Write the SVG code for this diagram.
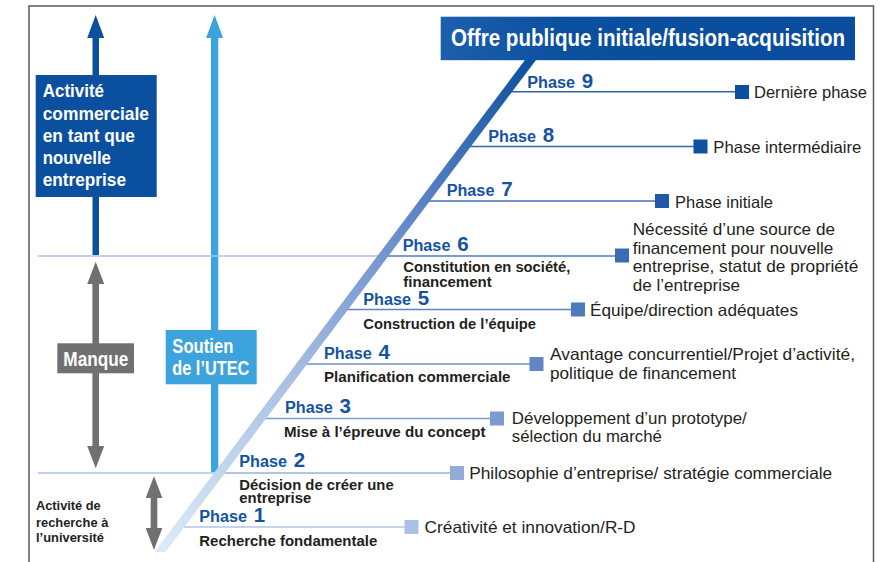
<svg xmlns="http://www.w3.org/2000/svg" width="893" height="562" viewBox="0 0 893 562">
<defs>
<linearGradient id="diag" gradientUnits="userSpaceOnUse" x1="160" y1="552" x2="531" y2="60">
<stop offset="0" stop-color="#dcebf8"/>
<stop offset="0.35" stop-color="#a9c0e4"/>
<stop offset="0.65" stop-color="#6a8dcb"/>
<stop offset="1" stop-color="#0b4f9f"/>
</linearGradient>
<linearGradient id="titleg" x1="0" y1="0" x2="1" y2="0">
<stop offset="0" stop-color="#1c5fad"/>
<stop offset="0.3" stop-color="#0b4f9f"/>
<stop offset="1" stop-color="#0a4d9e"/>
</linearGradient>
<style>
.b{font-family:"Liberation Sans",Arial,sans-serif;font-weight:bold}
.r{font-family:"Liberation Sans",Arial,sans-serif;font-size:16.5px;fill:#231f20}
.w{fill:#ffffff}
.ph{fill:#1452a3;font-size:16.8px}
.dg{fill:#1452a3;font-size:20.5px}
.sub{fill:#231f20;font-size:15.3px}
.sm{font-size:12.5px}
.sep{stroke:#aac4e6;stroke-width:1.5;fill:none}
</style>
</defs>
<rect width="893" height="562" fill="#ffffff"/>
<path d="M29,562 V6 H873.5 V562" fill="none" stroke="#5a5a5a" stroke-width="1.5"/>

<g id="connectors">
<rect x="92.5" y="37" width="6.5" height="218" fill="#0b4f9f"/>
<polygon points="95.7,15 104.2,38 87.2,38" fill="#0b4f9f"/>
<rect x="211" y="37" width="7.3" height="435" fill="#3ca3dc"/>
<polygon points="214.6,15 223.1,38 206.1,38" fill="#3ca3dc"/>
<rect x="92.4" y="283" width="6.6" height="164" fill="#707070"/>
<polygon points="95.7,261.7 104.2,284 87.2,284" fill="#707070"/>
<polygon points="95.7,468.3 104.2,446 87.2,446" fill="#707070"/>
<rect x="150.7" y="497" width="6.6" height="32" fill="#707070"/>
<polygon points="154,476 162.3,498 145.7,498" fill="#707070"/>
<polygon points="154,550 162.3,528 145.7,528" fill="#707070"/>
<line class="sep" x1="38" y1="256" x2="383" y2="256"/>
<line class="sep" x1="38" y1="473" x2="219.5" y2="473"/>
<line x1="506.8" y1="91.8" x2="736" y2="91.8" stroke="#2e62ad" stroke-width="1.5"/>
<line x1="465.4" y1="146.5" x2="694" y2="146.5" stroke="#3566b0" stroke-width="1.5"/>
<line x1="424.3" y1="201" x2="656" y2="201" stroke="#4470b6" stroke-width="1.5"/>
<line x1="382.9" y1="256" x2="616" y2="256" stroke="#4f7bbd" stroke-width="1.5"/>
<line x1="342.6" y1="309.5" x2="572" y2="309.5" stroke="#5b84c3" stroke-width="1.5"/>
<line x1="301.6" y1="364" x2="530" y2="364" stroke="#6e90c9" stroke-width="1.5"/>
<line x1="260.7" y1="418.5" x2="491" y2="418.5" stroke="#7d9ccf" stroke-width="1.5"/>
<line x1="219.5" y1="473" x2="451" y2="473" stroke="#98b0da" stroke-width="1.5"/>
<line x1="178.8" y1="527" x2="405" y2="527" stroke="#b0c6e6" stroke-width="1.5"/>
<polygon points="154.5,552 165.5,552 536,60 525,60" fill="url(#diag)"/>
</g>

<g id="title">
<rect x="440.7" y="16.7" width="414.3" height="43.5" fill="url(#titleg)"/>
<text class="b w" x="451" y="46" font-size="23" textLength="394" lengthAdjust="spacingAndGlyphs">Offre publique initiale/fusion-acquisition</text>
</g>

<g id="activite">
<rect x="35.7" y="75" width="121" height="122" fill="#0b4f9f"/>
<text class="b w" font-size="19" x="42.7" y="97.3" textLength="61.3" lengthAdjust="spacingAndGlyphs">Activité</text>
<text class="b w" font-size="19" x="42.7" y="119.5" textLength="106.3" lengthAdjust="spacingAndGlyphs">commerciale</text>
<text class="b w" font-size="19" x="42.7" y="141.8" textLength="92.3" lengthAdjust="spacingAndGlyphs">en tant que</text>
<text class="b w" font-size="19" x="42.7" y="164" textLength="68.3" lengthAdjust="spacingAndGlyphs">nouvelle</text>
<text class="b w" font-size="19" x="42.7" y="186.3" textLength="83.3" lengthAdjust="spacingAndGlyphs">entreprise</text>
</g>

<g id="manque">
<rect x="57.3" y="343.3" width="76.7" height="30" fill="#707070"/>
<text class="b w" font-size="20.5" x="63.3" y="365.5" textLength="65" lengthAdjust="spacingAndGlyphs">Manque</text>
</g>

<g id="soutien">
<rect x="165.7" y="330" width="91" height="54.3" fill="#3ca3dc"/>
<text class="b w" font-size="20.5" x="172.3" y="352.7" textLength="61" lengthAdjust="spacingAndGlyphs">Soutien</text>
<text class="b w" font-size="20.5" x="172.3" y="375" textLength="77" lengthAdjust="spacingAndGlyphs">de l’UTEC</text>
</g>

<g id="recherche-universite">
<text class="b sub sm" x="36" y="510" textLength="64.7" lengthAdjust="spacingAndGlyphs">Activité de</text>
<text class="b sub sm" x="36" y="526.7" textLength="72.3" lengthAdjust="spacingAndGlyphs">recherche à</text>
<text class="b sub sm" x="36" y="542" textLength="68" lengthAdjust="spacingAndGlyphs">l’université</text>
</g>

<g id="phase9">
<text class="b ph" x="527.3" y="88.3" textLength="47.7" lengthAdjust="spacingAndGlyphs">Phase</text>
<text class="b dg" x="581.8" y="88.3">9</text>
<rect x="735" y="85" width="14" height="14" fill="#0b4f9f"/>
<text class="r" x="754" y="98.3" textLength="113" lengthAdjust="spacingAndGlyphs">Dernière phase</text>
</g>

<g id="phase8">
<text class="b ph" x="488.3" y="141.7" textLength="47.7" lengthAdjust="spacingAndGlyphs">Phase</text>
<text class="b dg" x="542.8" y="141.7">8</text>
<rect x="693.5" y="139.5" width="14" height="14" fill="#0d51a1"/>
<text class="r" x="713.3" y="153.3" textLength="148" lengthAdjust="spacingAndGlyphs">Phase intermédiaire</text>
</g>

<g id="phase7">
<text class="b ph" x="446.7" y="196" textLength="47.7" lengthAdjust="spacingAndGlyphs">Phase</text>
<text class="b dg" x="501.2" y="196">7</text>
<rect x="655" y="194" width="14" height="14" fill="#1f59a7"/>
<text class="r" x="675" y="207.5" textLength="98" lengthAdjust="spacingAndGlyphs">Phase initiale</text>
</g>

<g id="phase6">
<text class="b ph" x="402.7" y="250.7" textLength="47.7" lengthAdjust="spacingAndGlyphs">Phase</text>
<text class="b dg" x="457.2" y="250.7">6</text>
<text class="b sub" x="403.3" y="271.7" textLength="167" lengthAdjust="spacingAndGlyphs">Constitution en société,</text>
<text class="b sub" x="403.3" y="286.5" textLength="88.4" lengthAdjust="spacingAndGlyphs">financement</text>
<rect x="615" y="248.5" width="14" height="14" fill="#3a6cb5"/>
<text class="r" x="632.7" y="235" textLength="202.3" lengthAdjust="spacingAndGlyphs">Nécessité d’une source de</text>
<text class="r" x="632.7" y="253.5" textLength="200.7" lengthAdjust="spacingAndGlyphs">financement pour nouvelle</text>
<text class="r" x="632.7" y="272" textLength="225.7" lengthAdjust="spacingAndGlyphs">entreprise, statut de propriété</text>
<text class="r" x="632.7" y="290.5" textLength="107.3" lengthAdjust="spacingAndGlyphs">de l’entreprise</text>
</g>

<g id="phase5">
<text class="b ph" x="363.3" y="305" textLength="47.7" lengthAdjust="spacingAndGlyphs">Phase</text>
<text class="b dg" x="417.8" y="305">5</text>
<text class="b sub" x="363.3" y="329.3" textLength="172.7" lengthAdjust="spacingAndGlyphs">Construction de l’équipe</text>
<rect x="571" y="302.5" width="14" height="14" fill="#4d79bd"/>
<text class="r" x="590" y="315.5" textLength="208" lengthAdjust="spacingAndGlyphs">Équipe/direction adéquates</text>
</g>

<g id="phase4">
<text class="b ph" x="324" y="359" textLength="47.7" lengthAdjust="spacingAndGlyphs">Phase</text>
<text class="b dg" x="378.5" y="359">4</text>
<text class="b sub" x="324" y="381.7" textLength="186.5" lengthAdjust="spacingAndGlyphs">Planification commerciale</text>
<rect x="529.5" y="357" width="14" height="14" fill="#6385c5"/>
<text class="r" x="550" y="360" textLength="305" lengthAdjust="spacingAndGlyphs">Avantage concurrentiel/Projet d’activité,</text>
<text class="r" x="550" y="378.5" textLength="186" lengthAdjust="spacingAndGlyphs">politique de financement</text>
</g>

<g id="phase3">
<text class="b ph" x="285" y="413.3" textLength="47.7" lengthAdjust="spacingAndGlyphs">Phase</text>
<text class="b dg" x="339.5" y="413.3">3</text>
<text class="b sub" x="284" y="436.7" textLength="201.5" lengthAdjust="spacingAndGlyphs">Mise à l’épreuve du concept</text>
<rect x="490" y="411.5" width="14" height="14" fill="#7b9bd0"/>
<text class="r" x="511.8" y="423.5" textLength="235" lengthAdjust="spacingAndGlyphs">Développement d’un prototype/</text>
<text class="r" x="511.8" y="442" textLength="150" lengthAdjust="spacingAndGlyphs">sélection du marché</text>
</g>

<g id="phase2">
<text class="b ph" x="239.3" y="467.3" textLength="47.7" lengthAdjust="spacingAndGlyphs">Phase</text>
<text class="b dg" x="293.8" y="467.3">2</text>
<text class="b sub" x="239.3" y="490" textLength="154.4" lengthAdjust="spacingAndGlyphs">Décision de créer une</text>
<text class="b sub" x="239.3" y="502.7" textLength="72" lengthAdjust="spacingAndGlyphs">entreprise</text>
<rect x="450" y="466" width="14" height="14" fill="#92abd9"/>
<text class="r" x="469.2" y="478.5" textLength="363" lengthAdjust="spacingAndGlyphs">Philosophie d’entreprise/ stratégie commerciale</text>
</g>

<g id="phase1">
<text class="b ph" x="199.3" y="521.7" textLength="47.7" lengthAdjust="spacingAndGlyphs">Phase</text>
<text class="b dg" x="253.8" y="521.7">1</text>
<text class="b sub" x="199.3" y="546" textLength="178" lengthAdjust="spacingAndGlyphs">Recherche fondamentale</text>
<rect x="404.5" y="520" width="14" height="14" fill="#a9c1e6"/>
<text class="r" x="424.6" y="532.5" textLength="211" lengthAdjust="spacingAndGlyphs">Créativité et innovation/R-D</text>
</g>
</svg>
